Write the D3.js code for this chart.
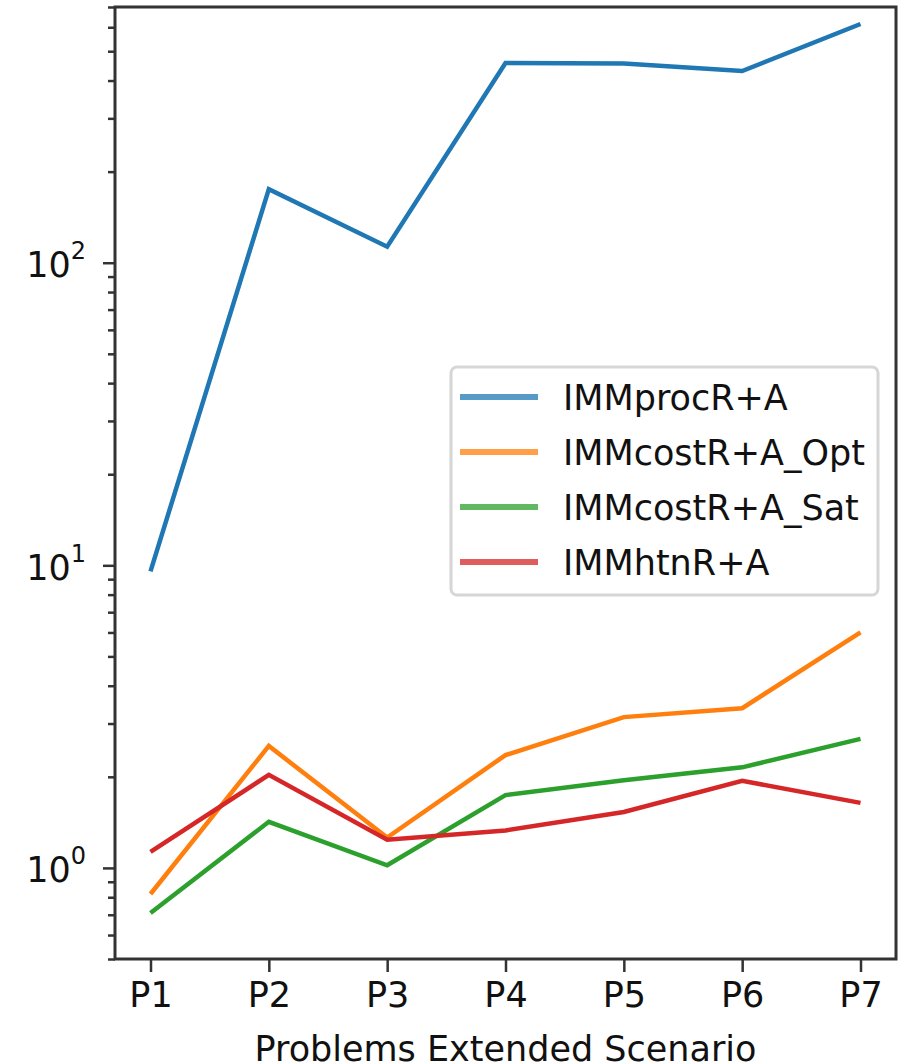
<!DOCTYPE html>
<html lang="en">
<head>
    <meta charset="UTF-8">
    <title>Problems Extended Scenario</title>
    <script src="https://cdnjs.cloudflare.com/ajax/libs/d3/7.8.5/d3.min.js"></script>
    <style>
        body {
            margin: 0;
            background-color: white;
        }

        #chart text {
            font-family: "DejaVu Sans", sans-serif;
            fill: #111;
        }

        .domain {
            display: none;
        }

        .tick line {
            stroke: #333;
            stroke-width: 2.5;
        }
    </style>
</head>
<body>
<div id="chart"></div>
<script>
    const problems = ['P1', 'P2', 'P3', 'P4', 'P5', 'P6', 'P7'];
    const seriesNames = ['IMMprocR+A', 'IMMcostR+A_Opt', 'IMMcostR+A_Sat', 'IMMhtnR+A'];
    const procValues = [9.55, 175, 113, 457, 455, 430, 615];
    const costOptValues = [0.82, 2.53, 1.26, 2.36, 3.15, 3.37, 6.0];
    const costSatValues = [0.71, 1.42, 1.02, 1.74, 1.95, 2.15, 2.67];
    const htnValues = [1.13, 2.03, 1.24, 1.33, 1.53, 1.94, 1.64];
    const majorTicks = [1, 10, 100];
    const yDomain = [0.5, 700];
    const xLabel = 'Problems Extended Scenario';

    const colors = ['#1f77b4', '#ff7f0e', '#2ca02c', '#d62728'];
    const allValues = [procValues, costOptValues, costSatValues, htnValues];

    const width = 905;
    const height = 1064;
    const plot = {left: 115, right: 896, top: 7, bottom: 959};

    const svg = d3.select('#chart')
        .append('svg')
        .attr('width', width)
        .attr('height', height);

    const x = d3.scaleLinear()
        .domain([-0.3, problems.length - 0.7])
        .range([plot.left, plot.right]);

    const y = d3.scaleLog()
        .domain(yDomain)
        .range([plot.bottom, plot.top]);

    // minor ticks: every integer multiple inside each decade
    const minorTicks = y.ticks().filter(t => !majorTicks.includes(t));

    svg.append('g')
        .attr('transform', `translate(${plot.left},0)`)
        .call(d3.axisLeft(y).tickValues(minorTicks).tickSize(7).tickFormat(''));

    const yAxis = svg.append('g')
        .attr('transform', `translate(${plot.left},0)`)
        .call(d3.axisLeft(y).tickValues(majorTicks).tickSize(12).tickFormat(''));

    yAxis.selectAll('.tick').each(function (d) {
        const t = d3.select(this).append('text')
            .attr('x', -29)
            .attr('y', 14)
            .attr('text-anchor', 'end')
            .style('font-size', '35px');
        t.append('tspan').text('10');
        t.append('tspan')
            .attr('dy', -18)
            .style('font-size', '24px')
            .text(Math.round(Math.log10(d)));
    });

    const xAxis = svg.append('g')
        .attr('transform', `translate(0,${plot.bottom})`)
        .call(d3.axisBottom(x).tickValues(d3.range(problems.length))
            .tickFormat(i => problems[i]).tickSize(13).tickPadding(10));

    xAxis.selectAll('text').style('font-size', '35px');

    svg.append('text')
        .attr('x', (plot.left + plot.right) / 2)
        .attr('y', 1061)
        .attr('text-anchor', 'middle')
        .style('font-size', '35px')
        .text(xLabel);

    const line = d3.line()
        .x((d, i) => x(i))
        .y(d => y(d));

    svg.selectAll('.series')
        .data(allValues)
        .enter()
        .append('path')
        .attr('class', 'series')
        .attr('fill', 'none')
        .attr('stroke', (_, i) => colors[i])
        .attr('stroke-width', 4.5)
        .attr('d', line);

    // frame
    svg.append('rect')
        .attr('x', plot.left)
        .attr('y', plot.top)
        .attr('width', plot.right - plot.left)
        .attr('height', plot.bottom - plot.top)
        .attr('fill', 'none')
        .attr('stroke', '#333')
        .attr('stroke-width', 3);

    // legend
    const legend = svg.append('g').attr('id', 'legend');
    legend.append('rect')
        .attr('x', 451)
        .attr('y', 367)
        .attr('width', 427)
        .attr('height', 228)
        .attr('rx', 6)
        .attr('fill', 'white')
        .attr('fill-opacity', 0.8)
        .attr('stroke', '#d6d6d6')
        .attr('stroke-width', 3);

    seriesNames.forEach((name, i) => {
        const ly = 397 + i * 55;
        legend.append('line')
            .attr('x1', 460).attr('x2', 538)
            .attr('y1', ly).attr('y2', ly)
            .attr('stroke', colors[i])
            .attr('stroke-opacity', 0.75)
            .attr('stroke-width', 6);
        legend.append('text')
            .attr('x', 563)
            .attr('y', ly + 13)
            .style('font-size', '35px')
            .text(name);
    });
</script>
</body>
</html>
